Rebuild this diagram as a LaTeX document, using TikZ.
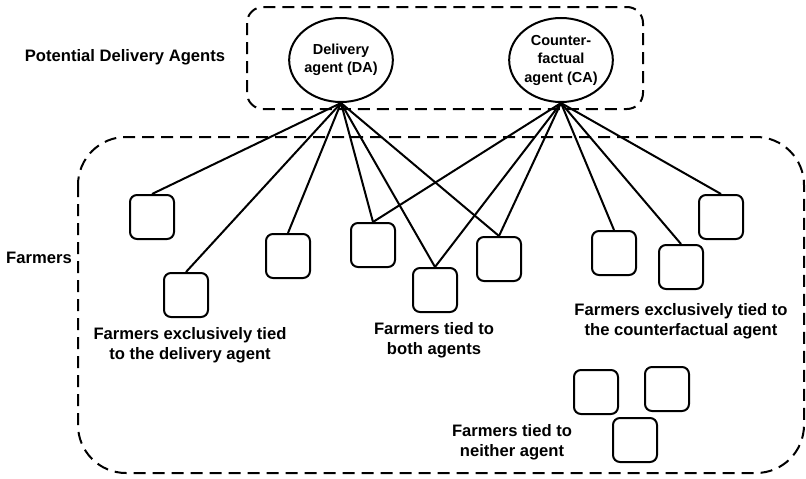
\documentclass[tikz,border=0pt]{standalone}
\usepackage{fontspec}
\setmainfont{Liberation Sans}
\usetikzlibrary{shapes.geometric}
\tikzset{
  group/.style={draw, line width=2pt, dash pattern=on 12pt off 7pt},
  agent/.style={draw, ellipse, line width=2pt, minimum width=96pt, minimum height=84pt,
    inner sep=0pt, align=center, font=\bfseries\fontsize{14.5}{18.5}\selectfont},
  farmer/.style={draw, rounded corners=7pt, line width=2pt, minimum size=44pt, inner sep=0pt},
  tie/.style={line width=2pt},
  caption/.style={align=center, font=\bfseries\fontsize{16.6}{19.5}\selectfont}
}
\begin{document}
\begin{tikzpicture}[x=1pt, y=-1pt]
\useasboundingbox (0,0) rectangle (806,479);
\draw[group, rounded corners=16pt] (247,7) rectangle (643,109);
\draw[group, rounded corners=48pt] (78,137) rectangle (804,473);
\node[agent] (da) at (341,60) {Delivery\\agent (DA)};
\node[agent] (ca) at (561,60) {Counter-\\factual\\agent (CA)};
\foreach \n/\x/\y in {
    1/152/217,
    2/186/295,
    3/288/256,
    4/373/245,
    5/435/290,
    6/499/259,
    7/614/253,
    8/681/267,
    9/721/217,
    10/596/392,
    11/667/389,
    12/635/440} {
    \node[farmer] (f\n) at (\x,\y) {};
}
\foreach \n in {1,...,6} {
    \draw[tie] (da.south) -- (f\n.north);
}
\foreach \n in {4,...,9} {
    \draw[tie] (ca.south) -- (f\n.north);
}
\node[caption] (pda) at (125,57) {Potential Delivery Agents};
\node[caption] (frm) at (39,258) {Farmers};
\node[caption] (exda) at (190,345) {Farmers exclusively tied\\to the delivery agent};
\node[caption] (both) at (434,340) {Farmers tied to\\both agents};
\node[caption] (exca) at (681,321) {Farmers exclusively tied to\\the counterfactual agent};
\node[caption] (none) at (512,442) {Farmers tied to\\neither agent};
\end{tikzpicture}
\end{document}
